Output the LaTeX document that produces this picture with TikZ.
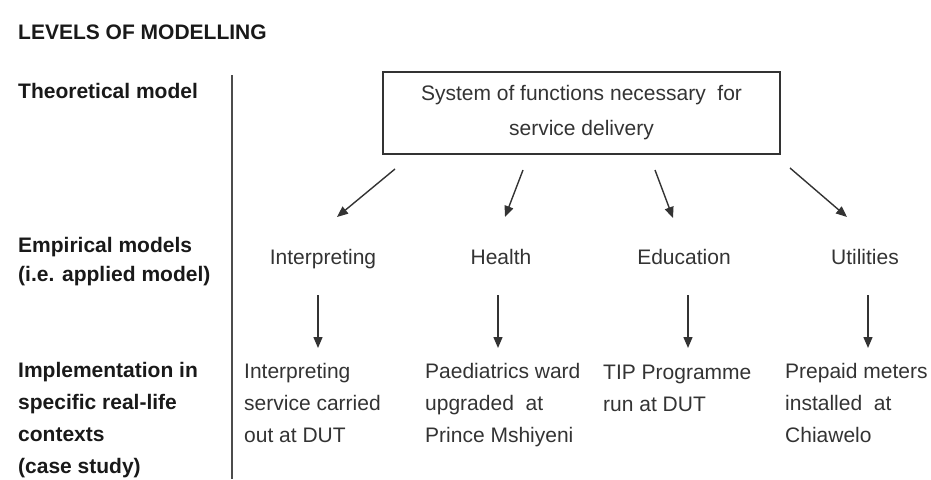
\documentclass[tikz,border=0pt]{standalone}
\usepackage{fontspec}
\setmainfont{Liberation Sans}
\usetikzlibrary{arrows.meta}

\begin{document}
\begin{tikzpicture}[x=1pt,y=-1pt,
  every node/.style={inner sep=0pt,text=black!80,font=\fontsize{21}{32}\selectfont},
  lvl/.style={anchor=north west,align=left,text=black!90,font=\fontsize{21}{29}\selectfont\bfseries},
  case/.style={anchor=north west,align=left,execute at begin node=\strut},
  arr/.style={line width=1.4pt,black!80,-{Triangle[length=11pt,width=9pt]}}]
\useasboundingbox (0,0) rectangle (931,479);
% Levels (left column)
\node[lvl] (title) at (18,25) {LEVELS OF MODELLING};
\node[lvl] (theo) at (18,83) {Theoretical model};
\node[lvl] (emp) at (18,237) {Empirical models\\(i.e. applied model)};
\node[lvl,font=\fontsize{21}{32}\selectfont\bfseries] (impl) at (18,362)
  {Implementation in\\specific real-life\\contexts\\(case study)};
% Separator
\draw[line width=1.2pt,black!70] (232,75) -- (232,479);
% Theoretical model
\node[draw,line width=1.6pt,black!80,minimum width=397pt,minimum height=82pt,
  align=center,font=\fontsize{21}{35}\selectfont] (sys) at (581.5,113)
  {System of functions necessary\ \ for\\service delivery};
% Empirical models
\foreach \n/\x/\t in {interp/323/Interpreting, health/501/Health,
    educ/684/Education, util/865/Utilities}
  \node[anchor=base] (\n) at (\x,264) {\t};
% Arrows from the box
\foreach \i/\xa/\ya/\xb/\yb in {1/395/169/337/217, 2/523/170/505/217,
    3/655/170/673/218, 4/790/168/847/217}{
  \coordinate (s\i) at (\xa,\ya);
  \coordinate (e\i) at (\xb,\yb);
  \draw[arr] (s\i) -- (e\i);
}
% Arrows down to the cases
\foreach \i/\x in {1/318, 2/498, 3/688, 4/868}{
  \coordinate (t\i) at (\x,295);
  \coordinate (b\i) at (\x,348);
  \draw[arr] (t\i) -- (b\i);
}
% Implementation (case studies)
\node[case] (c1) at (244,362.6) {Interpreting\\service carried\\out at DUT};
\node[case] (c2) at (425,362.6) {Paediatrics ward\\upgraded\ \ at\\Prince Mshiyeni};
\node[case] (c3) at (603,365.2) {TIP Programme\\run at DUT};
\node[case] (c4) at (785,362.6) {Prepaid meters\\installed\ \ at\\Chiawelo};
\end{tikzpicture}
\end{document}
